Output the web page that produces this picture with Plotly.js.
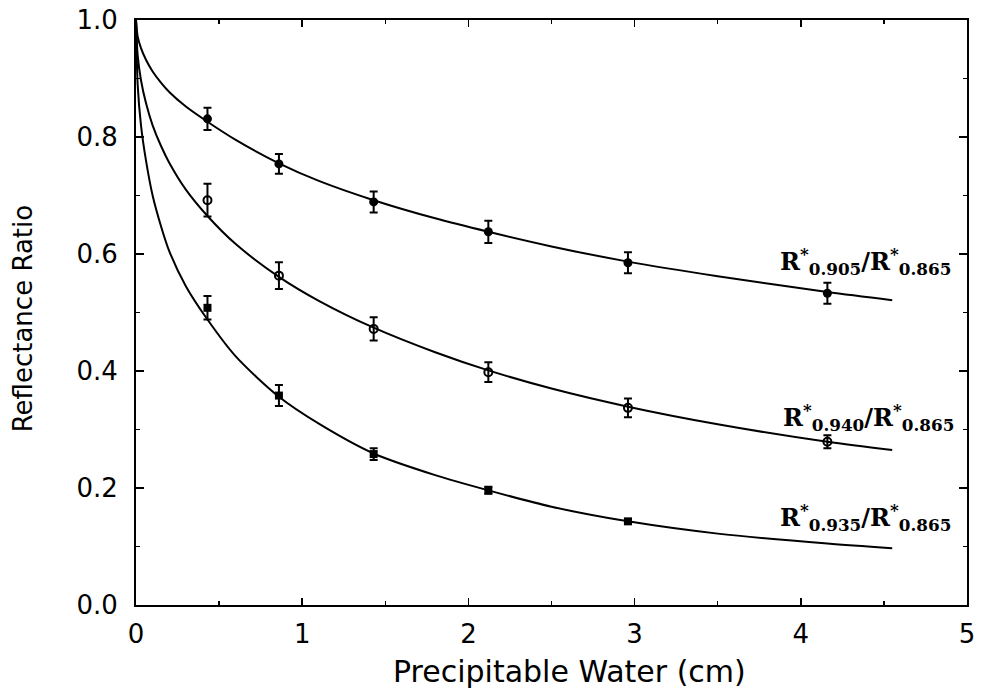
<!DOCTYPE html>
<html>
<head>
<meta charset="utf-8">
<script src="https://cdn.plot.ly/plotly-3.0.1.min.js"></script>
<style>html,body{margin:0;padding:0;background:#fff;}#chart{width:984px;height:698px;}</style>
</head>
<body>
<div id="chart"></div>
<script>
// Measured points
const pointsX = [0.43, 0.86, 1.43, 2.12, 2.96, 4.16];
const r905 = [0.831, 0.754, 0.689, 0.638, 0.585, 0.533];
const r905Err = [0.019, 0.017, 0.018, 0.019, 0.018, 0.018];
const r940 = [0.692, 0.563, 0.472, 0.398, 0.337, 0.279];
const r940Err = [0.028, 0.023, 0.020, 0.017, 0.016, 0.011];
const pointsX935 = [0.43, 0.86, 1.43, 2.12, 2.96];
const r935 = [0.508, 0.358, 0.258, 0.196, 0.143];
const r935Err = [0.020, 0.018, 0.010, 0.006, 0.004];

// Fitted curves
const curveX = [0, 0.01, 0.03, 0.06, 0.1, 0.15, 0.2, 0.3, 0.43, 0.6, 0.86, 1.1, 1.43, 1.8, 2.12, 2.5, 2.96, 3.5, 4.16, 4.55];
const fit905 = [1.0, 0.972, 0.952, 0.932, 0.912, 0.893, 0.877, 0.852, 0.826, 0.795, 0.755, 0.725, 0.692, 0.661, 0.638, 0.613, 0.587, 0.562, 0.535, 0.521];
const fit940 = [1.0, 0.94, 0.897, 0.858, 0.82, 0.785, 0.756, 0.71, 0.665, 0.617, 0.561, 0.52, 0.474, 0.432, 0.401, 0.37, 0.339, 0.309, 0.279, 0.265];
const fit935 = [1.0, 0.89, 0.82, 0.76, 0.70, 0.648, 0.605, 0.545, 0.488, 0.425, 0.356, 0.31, 0.259, 0.222, 0.196, 0.168, 0.143, 0.122, 0.105, 0.097];

const curveLabels = [
  {x: 4.39, y: 0.587, text: 'R<sup>*</sup><sub>0.905</sub>/R<sup>*</sup><sub>0.865</sub>'},
  {x: 4.41, y: 0.320, text: 'R<sup>*</sup><sub>0.940</sub>/R<sup>*</sup><sub>0.865</sub>'},
  {x: 4.39, y: 0.149, text: 'R<sup>*</sup><sub>0.935</sub>/R<sup>*</sup><sub>0.865</sub>'}
];
const xTitle = 'Precipitable Water (cm)';
const yTitle = 'Reflectance Ratio';

const lineStyle = {color: '#000', width: 2, shape: 'spline', smoothing: 0.8};
const errStyle = (arr) => ({type: 'data', array: arr, visible: true, color: '#000', thickness: 2, width: 4});

const traces = [
  {x: curveX, y: fit905, mode: 'lines', line: lineStyle, hoverinfo: 'skip'},
  {x: curveX, y: fit940, mode: 'lines', line: lineStyle, hoverinfo: 'skip'},
  {x: curveX, y: fit935, mode: 'lines', line: lineStyle, hoverinfo: 'skip'},
  {x: pointsX, y: r905, mode: 'markers', marker: {symbol: 'circle', size: 9, color: '#000'}, error_y: errStyle(r905Err)},
  {x: pointsX, y: r940, mode: 'markers', marker: {symbol: 'circle-open', size: 8, color: '#000', line: {width: 2, color: '#000'}}, error_y: errStyle(r940Err)},
  {x: pointsX935, y: r935, mode: 'markers', marker: {symbol: 'square', size: 8, color: '#000'}, error_y: errStyle(r935Err)}
];

const sansFont = 'DejaVu Sans, Verdana, sans-serif';

const annotations = curveLabels.map(l => ({
  x: l.x, y: l.y, xref: 'x', yref: 'y', text: '<b>' + l.text + '</b>', showarrow: false,
  xanchor: 'center', yanchor: 'middle',
  font: {family: 'DejaVu Serif, Liberation Serif, serif', size: 24, color: '#000'}
}));
annotations.push({
  x: 0.522, y: -0.1145, xref: 'paper', yref: 'paper', text: xTitle, showarrow: false,
  xanchor: 'center', yanchor: 'middle', font: {family: sansFont, size: 30, color: '#000'}
});
annotations.push({
  x: -0.136, y: 0.49, xref: 'paper', yref: 'paper', text: yTitle, showarrow: false, textangle: -90,
  xanchor: 'center', yanchor: 'middle', font: {family: sansFont, size: 26, color: '#000'}
});

const layout = {
  width: 984, height: 698,
  margin: {l: 136, r: 17, t: 20, b: 93},
  paper_bgcolor: '#fff', plot_bgcolor: '#fff',
  showlegend: false,
  font: {family: sansFont, color: '#000'},
  xaxis: {
    range: [0, 5], tickvals: [0, 1, 2, 3, 4, 5], ticktext: ['0', '1', '2', '3', '4', '5'],
    ticks: 'inside', ticklen: 7, tickwidth: 1.5, tickcolor: '#000', ticklabelstandoff: 5,
    minor: {dtick: 0.5, ticks: 'inside', ticklen: 4, tickcolor: '#000'},
    showline: true, linecolor: '#000', linewidth: 2, mirror: 'ticks',
    showgrid: false, zeroline: false,
    tickfont: {size: 26, family: sansFont}
  },
  yaxis: {
    range: [0, 1], dtick: 0.2, tickformat: '.1f',
    ticks: 'inside', ticklen: 8, tickwidth: 1.5, tickcolor: '#000', ticklabelstandoff: 11,
    minor: {dtick: 0.1, ticks: 'inside', ticklen: 4, tickcolor: '#000'},
    showline: true, linecolor: '#000', linewidth: 2, mirror: 'ticks',
    showgrid: false, zeroline: false,
    tickfont: {size: 26, family: sansFont}
  },
  annotations: annotations
};

Plotly.newPlot('chart', traces, layout, {displayModeBar: false, staticPlot: true});
</script>
</body>
</html>
